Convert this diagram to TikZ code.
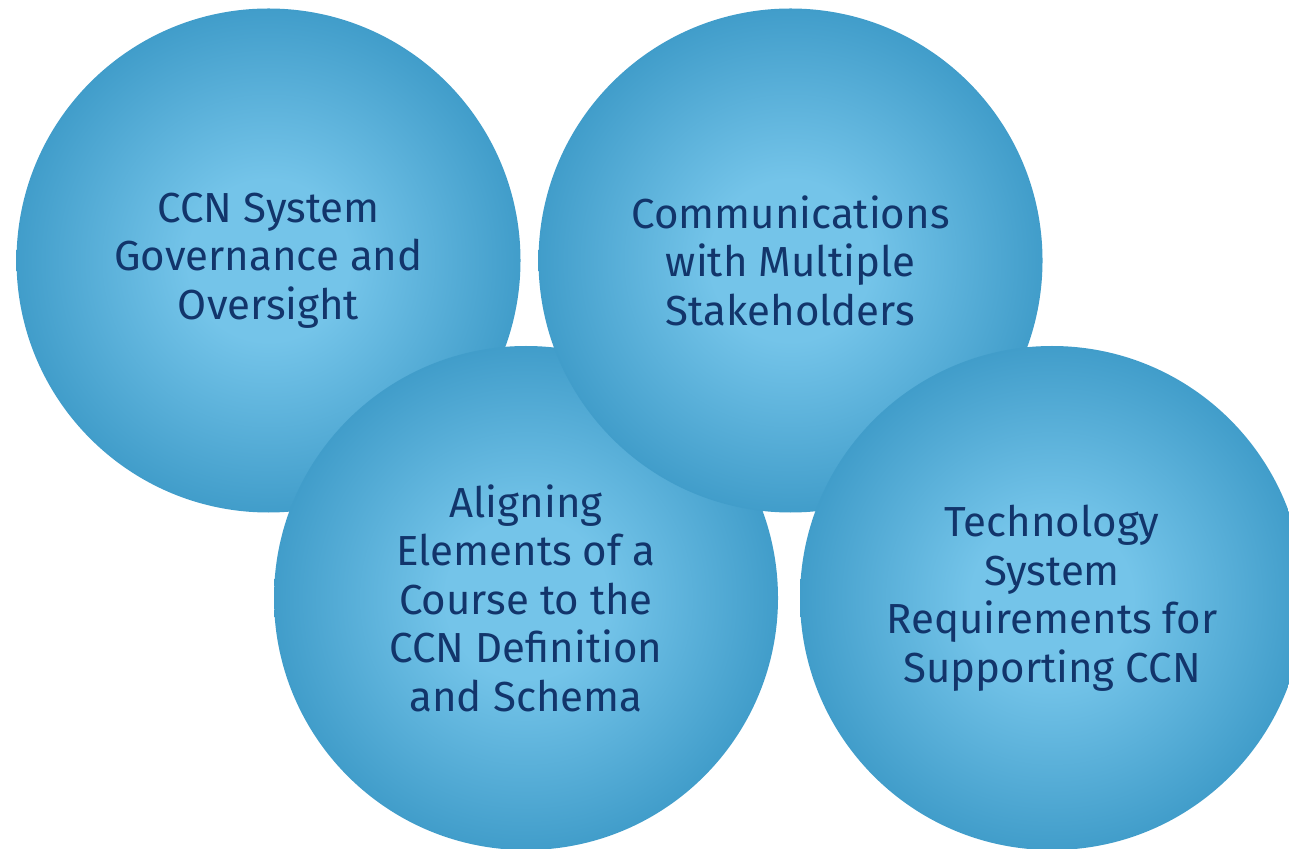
\documentclass[tikz,border=0pt]{standalone}
\usepackage{fontspec}
\setmainfont{Fira Sans}
\usetikzlibrary{positioning}
\definecolor{ballin}{HTML}{74C4E9}
\definecolor{ballout}{HTML}{419DCA}
\definecolor{balltext}{HTML}{12356B}
\pgfdeclareradialshading{ballshade}{\pgfpoint{0bp}{0bp}}{%
    color(0bp)=(ballin); color(8bp)=(ballin); color(25bp)=(ballout); color(50bp)=(ballout)}
\begin{document}
\begin{tikzpicture}[x=0.5pt,y=-0.5pt,
    ball/.style={circle, minimum size=252pt, inner sep=0pt, shading=ballshade},
    label text/.style={text=balltext, align=center,
        font=\fontsize{21}{24.25}\selectfont}]
        % Page frame, the lower right ball runs off the edge
        \useasboundingbox (0,0) rectangle (1289,849);
        \clip (0,0) rectangle (1289,849);

        % Ball centres
        \coordinate (G) at (268.5,260.5);
        \coordinate (C) at (790.5,260.5);
        \coordinate (A) at (526,598);
        \coordinate (T) at (1052,598);

        % Draw the balls, back to front
        \node[ball, label text] (gov) at (G) {CCN System\\Governance and\\Oversight};
        \node[ball, label text] (align) at (A) {Aligning\\Elements of a\\Course to the\\CCN Definition\\and Schema};
        \node[ball, label text] (comm) at (C) {Communications\\with Multiple\\Stakeholders};
        \node[ball, label text] (tech) at (T) {Technology\\System\\Requirements for\\Supporting CCN};
    \end{tikzpicture}
\end{document}
